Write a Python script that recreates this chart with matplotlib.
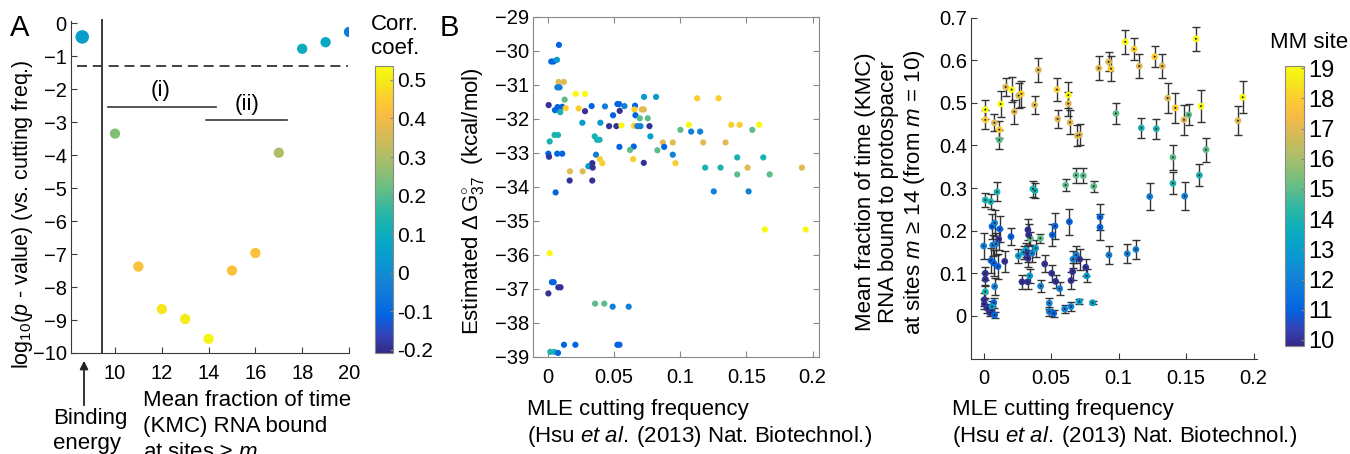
import numpy as np
import matplotlib
matplotlib.use("Agg")
import matplotlib.pyplot as plt
from matplotlib.colors import LinearSegmentedColormap, Normalize
from matplotlib.cm import ScalarMappable

plt.rcParams["font.family"] = ["Liberation Sans", "DejaVu Sans"]
plt.rcParams["mathtext.fontset"] = "custom"
plt.rcParams["mathtext.rm"] = "Liberation Sans"
plt.rcParams["mathtext.it"] = "Liberation Sans:italic"
plt.rcParams["xtick.direction"] = "in"
plt.rcParams["ytick.direction"] = "in"
plt.rcParams["font.size"] = 14

# MATLAB parula, sampled
parula_rgb = [
    (0.2081, 0.1663, 0.5292), (0.1959, 0.2645, 0.7279), (0.0117, 0.3875, 0.8820),
    (0.0498, 0.4586, 0.8641), (0.0793, 0.5200, 0.8312), (0.0343, 0.5966, 0.8199),
    (0.0228, 0.6535, 0.7768), (0.0843, 0.6928, 0.7062), (0.2178, 0.7250, 0.6193),
    (0.3953, 0.7459, 0.5244), (0.5709, 0.7485, 0.4494), (0.7184, 0.7411, 0.3905),
    (0.8507, 0.7299, 0.3360), (0.9739, 0.7314, 0.2666), (0.9880, 0.8066, 0.1794),
    (0.9598, 0.9218, 0.0948), (0.9763, 0.9831, 0.0538)]
parula_pos = [0, 4, 8, 12, 16, 20, 24, 28, 32, 36, 40, 44, 48, 52, 56, 60, 63]
parula = LinearSegmentedColormap.from_list(
    "parula", [(p / 63, c) for p, c in zip(parula_pos, parula_rgb)])

# ---------------- panel A data ----------------
a_sites = [10, 11, 12, 13, 14, 15, 16, 17, 18, 19, 20]
a_logp = [-3.35, -7.38, -8.67, -8.97, -9.57, -7.50, -6.97, -3.93, -0.78, -0.58, -0.27]
a_corr = [0.25, 0.42, 0.49, 0.50, 0.52, 0.42, 0.42, 0.30, 0.10, 0.08, -0.05]
a_bind_x = 8.6
a_bind_logp = -0.42
a_bind_corr = 0.05
a_yticks = list(range(-10, 1))
a_xticks = [10, 12, 14, 16, 18, 20]
a_cbar_ticks = [-0.2, -0.1, 0, 0.1, 0.2, 0.3, 0.4, 0.5]
a_cbar_labels = ["-0.2", "-0.1", "0", "0.1", "0.2", "0.3", "0.4", "0.5"]
p_threshold = np.log10(0.05)
divider_x = 9.43
bracket_i = ([9.70, 14.32], -2.55)
bracket_ii = ([13.89, 17.35], -2.93)

# ---------------- panel B data ----------------
b_x = [0.0083, 0.0025, 0.0043, 0.0068, 0.0080, 0.0120, 0.0071, 0.0088, 0.0126, 0.0210,
       0.0280, 0.0005, 0.0053, 0.0073, 0.0108, 0.0093, 0.0134, 0.0232, 0.0280, 0.0330,
       0.0260, 0.0396, 0.0431, 0.0525, 0.0538, 0.0578, 0.0542, 0.0462, 0.0492, 0.0517,
       0.0555, 0.0658, 0.0653, 0.0709, 0.0724, 0.0661, 0.0694, 0.0754, 0.0650, 0.0676,
       0.0699, 0.0767, 0.0726, 0.0817, 0.0353, 0.0371, 0.0390, 0.0363, 0.0305, 0.0335,
       0.0338, 0.0393, 0.0411, 0.0166, 0.0262, 0.0164, 0.0335, 0.0058, 0.0013, 0.0050,
       0.0076, 0.0003, 0.0008, 0.0070, 0.0108, 0.0540, 0.0648, 0.0620, 0.0643, 0.0724,
       0.0774, 0.0827, 0.0868, 0.0878, 0.0943, 0.0943, 0.0963, 0.1001, 0.1064, 0.1082,
       0.1150, 0.1127, 0.1289, 0.1173, 0.1342, 0.1188, 0.1304, 0.1253, 0.1385, 0.1448,
       0.1544, 0.1596, 0.1430, 0.1430, 0.1508, 0.1516, 0.1627, 0.1675, 0.1919, 0.1639,
       0.1947, 0.0013, 0.0030, 0.0043, 0.0078, 0.0095, 0.0003, 0.0356, 0.0426, 0.0489,
       0.0610, 0.0018, 0.0048, 0.0076, 0.0121, 0.0207, 0.0525, 0.0540]
b_dg = [-29.82, -30.31, -30.31, -30.26, -30.91, -30.91, -31.07, -31.07, -31.43, -31.26,
        -31.26, -31.59, -31.74, -31.65, -31.64, -31.80, -31.68, -31.69, -31.77, -31.62,
        -32.11, -32.11, -31.63, -31.56, -31.56, -31.62, -31.76, -32.21, -31.89, -32.21,
        -32.19, -31.61, -31.72, -31.72, -31.72, -31.89, -31.98, -31.98, -32.20, -32.21,
        -32.21, -32.21, -31.35, -31.35, -32.51, -32.61, -32.61, -33.05, -33.39, -33.30,
        -33.43, -33.18, -33.30, -33.54, -33.54, -33.81, -33.81, -34.16, -32.66, -32.47,
        -32.47, -33.02, -33.11, -33.02, -33.02, -32.82, -32.81, -32.91, -33.18, -33.29,
        -32.51, -32.92, -32.69, -32.82, -32.69, -33.05, -33.30, -32.32, -32.17, -32.37,
        -32.37, -31.39, -31.39, -32.69, -32.69, -33.43, -33.43, -34.13, -32.17, -32.17,
        -32.32, -32.17, -33.13, -33.63, -33.43, -34.13, -33.13, -33.63, -33.43, -35.25,
        -35.25, -35.95, -36.80, -36.80, -36.95, -36.95, -37.13, -37.43, -37.43, -37.52,
        -37.52, -38.85, -38.85, -38.88, -38.64, -38.64, -38.64, -38.64]
b_site = [11, 11, 11, 13, 17, 17, 12, 12, 15, 19,
          19, 10, 11, 11, 11, 14, 18, 18, 10, 11,
          13, 13, 12, 11, 11, 12, 10, 10, 11, 10,
          19, 11, 18, 17, 17, 11, 15, 15, 18, 12,
          12, 10, 13, 13, 14, 14, 14, 12, 13, 10,
          10, 18, 18, 17, 17, 10, 10, 11, 14, 14,
          14, 11, 10, 11, 11, 11, 11, 15, 18, 10,
          13, 15, 17, 11, 17, 12, 18, 15, 19, 12,
          12, 18, 18, 17, 17, 14, 14, 12, 18, 18,
          15, 19, 14, 15, 17, 12, 14, 15, 17, 19,
          19, 19, 11, 11, 10, 10, 10, 15, 15, 12,
          12, 14, 14, 11, 11, 11, 11, 11]

# ---------------- panel C data ----------------
c_x = [0.0012, 0.0012, 0.0079, 0.0116, 0.0116, 0.0126, 0.0163, 0.0207, 0.0227, 0.0259,
       0.0279, 0.0378, 0.0405, 0.0543, 0.0548, 0.0627, 0.0627, 0.0640, 0.0694, 0.0711,
       0.0852, 0.0926, 0.0943, 0.1049, 0.1114, 0.1153, 0.1267, 0.1323, 0.1363, 0.1420,
       0.1484, 0.1573, 0.1610, 0.1884, 0.1919,
       0.1519, 0.0980, 0.1168, 0.1279, 0.1402, 0.1647, 0.1402, 0.1598, 0.1230, 0.1489,
       0.0012, 0.0052, 0.0099, 0.0365, 0.0380, 0.0607, 0.0684, 0.0738, 0.0815, 0.0346,
       0.0420,
       0.0000, 0.0012, 0.0012, 0.0012, 0.0005, 0.0005, 0.0025, 0.0044, 0.0062, 0.0081,
       0.0074, 0.0062, 0.0062, 0.0081, 0.0067, 0.0054, 0.0074, 0.0091, 0.0106, 0.0119,
       0.0111, 0.0081, 0.0202, 0.0156, 0.0257, 0.0284, 0.0296, 0.0314, 0.0328, 0.0333,
       0.0328, 0.0328, 0.0326, 0.0341, 0.0358, 0.0385, 0.0452, 0.0422, 0.0504, 0.0509,
       0.0528, 0.0533, 0.0563, 0.0486, 0.0486, 0.0519, 0.0600, 0.0647, 0.0709, 0.0807,
       0.0635, 0.0647, 0.0659, 0.0662, 0.0686, 0.0711, 0.0756, 0.0763, 0.0862, 0.0862,
       0.0928, 0.1064, 0.1128]
c_frac = [0.484, 0.460, 0.453, 0.437, 0.413, 0.497, 0.537, 0.531, 0.479, 0.517,
          0.521, 0.495, 0.577, 0.531, 0.462, 0.518, 0.498, 0.454, 0.423, 0.425,
          0.581, 0.596, 0.580, 0.643, 0.626, 0.586, 0.608, 0.586, 0.511, 0.488,
          0.460, 0.650, 0.492, 0.458, 0.513,
          0.472, 0.475, 0.441, 0.439, 0.372, 0.390, 0.311, 0.330, 0.280, 0.281,
          0.272, 0.268, 0.291, 0.298, 0.294, 0.307, 0.330, 0.329, 0.304, 0.182,
          0.182,
          0.164, 0.100, 0.086, 0.057, 0.038, 0.028, 0.018, 0.008, 0.014, 0.002,
          0.031, 0.022, 0.210, 0.218, 0.166, 0.130, 0.124, 0.169, 0.116, 0.204,
          0.180, 0.069, 0.186, 0.128, 0.141, 0.080, 0.149, 0.155, 0.202, 0.190,
          0.147, 0.135, 0.080, 0.094, 0.147, 0.159, 0.122, 0.070, 0.100, 0.190,
          0.211, 0.081, 0.064, 0.030, 0.010, 0.006, 0.016, 0.022, 0.034, 0.031,
          0.221, 0.083, 0.104, 0.133, 0.143, 0.133, 0.114, 0.094, 0.232, 0.208,
          0.143, 0.146, 0.156]
c_err = [0.022, 0.022, 0.020, 0.020, 0.022, 0.030, 0.022, 0.030, 0.028, 0.030,
         0.030, 0.022, 0.028, 0.028, 0.022, 0.030, 0.028, 0.028, 0.025, 0.025,
         0.028, 0.022, 0.030, 0.028, 0.025, 0.028, 0.025, 0.028, 0.035, 0.035,
         0.035, 0.028, 0.037, 0.034, 0.037,
         0.024, 0.024, 0.024, 0.024, 0.030, 0.028, 0.026, 0.026, 0.032, 0.032,
         0.016, 0.018, 0.022, 0.018, 0.018, 0.015, 0.018, 0.018, 0.013, 0.016,
         0.010,
         0.030, 0.015, 0.015, 0.015, 0.015, 0.012, 0.010, 0.008, 0.010, 0.008,
         0.012, 0.012, 0.030, 0.030, 0.025, 0.030, 0.030, 0.025, 0.030, 0.030,
         0.025, 0.020, 0.020, 0.025, 0.016, 0.016, 0.016, 0.016, 0.025, 0.025,
         0.020, 0.020, 0.016, 0.016, 0.020, 0.020, 0.020, 0.015, 0.020, 0.025,
         0.030, 0.015, 0.015, 0.013, 0.010, 0.008, 0.010, 0.010, 0.005, 0.004,
         0.030, 0.020, 0.020, 0.020, 0.020, 0.025, 0.020, 0.015, 0.030, 0.030,
         0.022, 0.022, 0.022]
c_site = [19, 18, 17, 18, 15, 19, 17, 19, 17, 17,
          18, 17, 17, 18, 17, 19, 17, 17, 17, 17,
          17, 17, 18, 19, 18, 17, 18, 17, 17, 18,
          17, 19, 19, 17, 19,
          15, 15, 14, 14, 15, 15, 14, 14, 12, 12,
          14, 14, 14, 14, 14, 15, 15, 15, 15, 15,
          15,
          12, 10, 10, 14, 10, 10, 10, 10, 10, 11,
          11, 13, 11, 12, 12, 11, 11, 12, 11, 11,
          10, 12, 11, 10, 13, 10, 13, 13, 10, 10,
          10, 10, 10, 13, 12, 13, 10, 12, 10, 11,
          11, 10, 12, 12, 12, 11, 12, 12, 13, 13,
          11, 10, 10, 12, 12, 10, 10, 13, 11, 11,
          12, 12, 12]

freq_ticks = [0, 0.05, 0.1, 0.15, 0.2]
freq_labels = ["0", "0.05", "0.1", "0.15", "0.2"]
b_yticks = list(range(-39, -28))
c_yticks = [0, 0.1, 0.2, 0.3, 0.4, 0.5, 0.6, 0.7]
c_ylabels = ["0", "0.1", "0.2", "0.3", "0.4", "0.5", "0.6", "0.7"]
site_ticks = list(range(10, 20))

W, H = 1350, 454
axc = "#3a3a3a"
lab = 16
src = "MLE cutting frequency\n(Hsu $et\\ al.$\u2009(2013) Nat. Biotechnol.)"


def box(l, t, r, b):
    return [l / W, 1 - b / H, (r - l) / W, (b - t) / H]


fig = plt.figure(figsize=(13.5, 4.54), dpi=100)

# ================= panel A =================
ax = fig.add_axes(box(71, 21.4, 349, 353))
corr_norm = Normalize(-0.208, 0.536)
ax.scatter(a_sites, a_logp, c=a_corr, cmap=parula, norm=corr_norm, s=55,
           edgecolors="none", zorder=3)
ax.scatter([a_bind_x], [a_bind_logp], c=[a_bind_corr], cmap=parula, norm=corr_norm,
           s=95, edgecolors="none", zorder=3)
ax.axhline(p_threshold, xmin=0.02, xmax=0.995, color="#222222", lw=1.2,
           linestyle=(0, (6, 3.5)))
ax.plot([divider_x, divider_x], [-10, 0.1], color=axc, lw=1.4, clip_on=False)
ax.plot(bracket_i[0], [bracket_i[1]] * 2, color=axc, lw=1.2)
ax.plot(bracket_ii[0], [bracket_ii[1]] * 2, color=axc, lw=1.2)
ax.text(np.mean(bracket_i[0]) - 0.05, bracket_i[1] + 0.5, "(i)", ha="center",
        va="center", fontsize=lab)
ax.text(np.mean(bracket_ii[0]) + 0.02, bracket_ii[1] + 0.45, "(ii)", ha="center",
        va="center", fontsize=lab)
ax.set_xlim(8.12, 20)
ax.set_ylim(-10, 0.05)
ax.set_xticks(a_xticks)
ax.set_yticks(a_yticks)
for s in ["top", "right"]:
    ax.spines[s].set_visible(False)
for s in ["left", "bottom"]:
    ax.spines[s].set_color(axc)
ax.tick_params(colors=axc, labelcolor="black", length=4, labelsize=14.5)
ax.tick_params(axis="x", pad=8)
ax.tick_params(axis="y", pad=3)
ax.set_ylabel(r"log$_{10}$($p$ - value) (vs. cutting freq.)", fontsize=15.5)
ax.yaxis.set_label_coords(-0.13, 0.42)

cax = fig.add_axes(box(375, 66, 393, 353))
cb = fig.colorbar(ScalarMappable(norm=corr_norm, cmap=parula), cax=cax)
cb.set_ticks(a_cbar_ticks)
cb.set_ticklabels(a_cbar_labels)
cb.outline.set_edgecolor("#888888")
cax.tick_params(labelsize=15, length=2, colors="#888888", labelcolor="black", pad=3)

fig.text(10 / W, 1 - 14 / H, "A", fontsize=21, va="top")
fig.text(371 / W, 1 - 14 / H, "Corr.\ncoef.", fontsize=lab, va="top",
         linespacing=1.2)
fig.text(53 / W, 1 - 408 / H, "Binding\nenergy", fontsize=lab, va="top",
         linespacing=1.25)
fig.text(143 / W, 1 - 390 / H,
         "Mean fraction of time\n(KMC) RNA bound\nat sites \u2265 $m$",
         fontsize=lab, va="top", linespacing=1.3)
ax.annotate("", xy=(84 / W, 1 - 358 / H), xytext=(84 / W, 1 - 408 / H),
            xycoords="figure fraction", textcoords="figure fraction",
            arrowprops=dict(arrowstyle="-|>", color="#222222", lw=1.3,
                            mutation_scale=12))

# ================= panel B =================
site_norm = Normalize(9.8, 19.07)
bx = fig.add_axes(box(533, 17, 819, 357))
bx.scatter(b_x, b_dg, c=b_site, cmap=parula, norm=site_norm, s=20,
           edgecolors="none", zorder=3)
bx.set_xlim(-0.0113, 0.2048)
bx.set_ylim(-39, -29)
bx.set_xticks(freq_ticks)
bx.set_xticklabels(freq_labels)
bx.set_yticks(b_yticks)
for s in bx.spines.values():
    s.set_color("#888888")
bx.tick_params(top=True, right=True, length=4, colors="#888888",
               labelcolor="black", labelsize=14.5)
bx.tick_params(axis="x", pad=8)
bx.tick_params(axis="y", pad=3)
bx.set_ylabel(r"Estimated $\Delta\,$G$^{\circ}_{37}$  (kcal/mol)", fontsize=lab)
bx.yaxis.set_label_coords(-0.165, 0.46)
fig.text(440 / W, 1 - 14 / H, "B", fontsize=21, va="top")
fig.text(527 / W, 1 - 399 / H, src, fontsize=lab, va="top", linespacing=1.22)

# ================= panel C =================
cx = fig.add_axes(box(971, 17.5, 1257, 359))
cx.errorbar(c_x, c_frac, yerr=c_err, fmt="none", ecolor="#333333", elinewidth=1.0,
            capsize=3, capthick=1.0, zorder=2)
cx.scatter(c_x, c_frac, c=c_site, cmap=parula, norm=site_norm, s=24,
           edgecolors="none", zorder=3)
cx.scatter(c_x, c_frac, color="#222222", s=2, edgecolors="none", zorder=4)
cx.set_xlim(-0.0094, 0.2025)
cx.set_ylim(-0.101, 0.7)
cx.set_xticks(freq_ticks)
cx.set_xticklabels(freq_labels)
cx.set_yticks(c_yticks)
cx.set_yticklabels(c_ylabels)
for s in ["top", "right"]:
    cx.spines[s].set_visible(False)
for s in ["left", "bottom"]:
    cx.spines[s].set_color(axc)
cx.tick_params(length=4, colors=axc, labelcolor="black", labelsize=14.5)
cx.tick_params(axis="x", pad=7)
cx.tick_params(axis="y", pad=3)
fig.text(891 / W, 1 - 192 / H,
         "Mean fraction of time (KMC)\nRNA bound to protospacer\n"
         "at sites $m$ \u2265 14 (from $m$ = 10)",
         rotation=90, ha="center", va="center", multialignment="center",
         fontsize=lab, linespacing=1.15)
fig.text(952 / W, 1 - 399 / H, src, fontsize=lab, va="top", linespacing=1.22)

ccax = fig.add_axes(box(1285, 66, 1304, 346))
cb2 = fig.colorbar(ScalarMappable(norm=site_norm, cmap=parula), cax=ccax)
cb2.set_ticks(site_ticks)
cb2.outline.set_edgecolor("#888888")
ccax.tick_params(labelsize=17, length=2, colors="#888888", labelcolor="black", pad=3)
fig.text(1270 / W, 1 - 42 / H, "MM site", fontsize=lab, va="center")

fig.savefig("out.png", dpi=100)
